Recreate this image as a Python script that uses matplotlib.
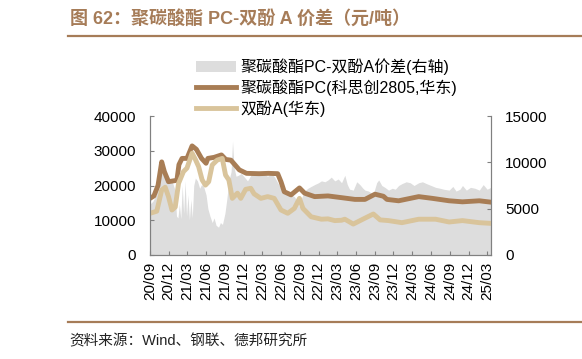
import pandas as pd
import matplotlib
matplotlib.use("Agg")
import matplotlib.pyplot as plt
import matplotlib.dates as mdates
from matplotlib.patches import Patch
from matplotlib.lines import Line2D

plt.rcParams["font.family"] = ["Liberation Sans", "Noto Sans CJK SC"]

# ---- data (yuan/ton) ----
pc_dates = ["2020-09-01", "2020-09-20", "2020-10-10", "2020-10-28", "2020-11-10", "2020-11-30",
            "2021-01-10", "2021-01-20", "2021-02-04", "2021-02-28", "2021-03-25", "2021-04-15",
            "2021-05-10", "2021-06-01", "2021-06-10", "2021-07-10", "2021-08-15", "2021-09-05",
            "2021-09-30", "2021-11-10", "2021-12-15", "2022-02-15", "2022-04-01", "2022-05-16",
            "2022-06-01", "2022-06-17", "2022-07-20", "2022-08-30", "2022-09-24", "2022-11-12",
            "2023-01-16", "2023-03-23", "2023-05-27", "2023-07-15", "2023-09-02", "2023-10-13",
            "2023-10-30", "2023-12-26", "2024-04-02", "2024-06-07", "2024-08-28", "2024-11-01",
            "2025-01-22", "2025-03-20"]
pc_vals = [16300, 17000, 20000, 26800, 24000, 21100,
           21500, 26000, 27800, 27800, 31400, 30400,
           27800, 26400, 27800, 28100, 28800, 27500,
           27300, 24500, 23500, 23400, 23500, 23400,
           21100, 18200, 17300, 19300, 17800, 16800,
           17000, 16500, 16000, 16000, 17500, 16900,
           16000, 15600, 16800, 16300, 15600, 15300,
           15600, 15200]

bpa_dates = ["2020-09-01", "2020-10-04", "2020-10-28", "2020-11-14", "2020-11-30", "2020-12-17",
             "2021-01-02", "2021-01-18", "2021-02-11", "2021-02-28", "2021-03-25", "2021-04-10",
             "2021-04-26", "2021-05-13", "2021-05-29", "2021-06-14", "2021-07-01", "2021-07-25",
             "2021-08-19", "2021-09-04", "2021-09-20", "2021-10-07", "2021-11-01", "2021-11-17",
             "2021-12-11", "2022-01-05", "2022-01-21", "2022-02-23", "2022-03-28", "2022-04-29",
             "2022-06-01", "2022-07-04", "2022-08-05", "2022-08-30", "2022-09-16", "2022-10-26",
             "2022-12-15", "2023-01-16", "2023-02-18", "2023-03-23", "2023-04-08", "2023-05-19",
             "2023-07-15", "2023-08-25", "2023-09-27", "2023-11-07", "2024-01-11", "2024-04-02",
             "2024-06-23", "2024-08-28", "2024-11-01", "2025-01-22", "2025-03-20"]
bpa_vals = [12000, 12600, 18700, 19500, 16800, 12950,
            13800, 20600, 24000, 25000, 29300, 27500,
            25400, 21600, 20100, 21100, 25900, 27300,
            27800, 23000, 21600, 16300, 17800, 16300,
            18900, 19200, 17600, 16300, 16800, 16300,
            12950, 12000, 13400, 16300, 13400, 11000,
            10300, 10400, 9900, 10000, 10300, 8900,
            10600, 11800, 10100, 9900, 9300, 10300,
            10300, 9500, 9900, 9300, 9100]

spread_dates = ["2020-09-01", "2020-09-15", "2020-10-01", "2020-10-20", "2020-11-05", "2020-11-20",
                "2020-12-05", "2020-12-20", "2021-01-01", "2021-01-08", "2021-01-15", "2021-01-22",
                "2021-01-29", "2021-02-05", "2021-02-12", "2021-02-19", "2021-02-26", "2021-03-05",
                "2021-03-12", "2021-03-19", "2021-03-26", "2021-04-02", "2021-04-10", "2021-04-20",
                "2021-05-01", "2021-05-10", "2021-05-20", "2021-06-01", "2021-06-10", "2021-06-20",
                "2021-07-01", "2021-07-10", "2021-07-20", "2021-08-01", "2021-08-10", "2021-08-20",
                "2021-09-01", "2021-09-10", "2021-09-20", "2021-10-01", "2021-10-08", "2021-10-15",
                "2021-10-25", "2021-11-05", "2021-11-20", "2021-12-05", "2021-12-20", "2022-01-05",
                "2022-01-20", "2022-02-05", "2022-02-20", "2022-03-10", "2022-03-28", "2022-04-15",
                "2022-05-01", "2022-05-16", "2022-06-01", "2022-06-17", "2022-07-04", "2022-07-20",
                "2022-08-05", "2022-08-20", "2022-08-30", "2022-09-10", "2022-09-24", "2022-10-10",
                "2022-10-26", "2022-11-12", "2022-12-01", "2022-12-15", "2023-01-01", "2023-01-16",
                "2023-02-01", "2023-02-18", "2023-03-07", "2023-03-23", "2023-04-08", "2023-04-20",
                "2023-05-01", "2023-05-19", "2023-06-05", "2023-06-20", "2023-07-05", "2023-07-15",
                "2023-08-01", "2023-08-15", "2023-08-25", "2023-09-10", "2023-09-20", "2023-10-05",
                "2023-10-20", "2023-11-07", "2023-11-25", "2023-12-10", "2023-12-26", "2024-01-11",
                "2024-02-01", "2024-02-20", "2024-03-10", "2024-04-02", "2024-04-20", "2024-05-10",
                "2024-06-01", "2024-06-23", "2024-07-15", "2024-08-01", "2024-08-28", "2024-09-15",
                "2024-10-01", "2024-10-20", "2024-11-01", "2024-11-20", "2024-12-10", "2025-01-01",
                "2025-01-22", "2025-02-10", "2025-03-01", "2025-03-20"]
spread_vals = [5500, 5800, 6500, 8500, 9200, 8800,
               8300, 7800, 7000, 4200, 4000, 5500,
               3900, 7500, 4500, 8000, 4200, 6500,
               3800, 6000, 4000, 7500, 8300, 8000,
               7200, 7600, 7400, 6500, 5000, 4200,
               3500, 4000, 3200, 3000, 3500, 3300,
               4500, 6000, 8000, 9000, 12300, 9500,
               8500, 8600, 8800, 8400, 8000, 8600,
               8900, 9000, 8800, 8700, 8500, 8800,
               8400, 7800, 7200, 6800, 6900, 6500,
               6300, 5800, 5200, 6200, 6900, 7200,
               7400, 7600, 7800, 8000, 7900, 8100,
               8400, 8000, 8200, 7800, 8600, 7600,
               7100, 7000, 7900, 7600, 7200, 7000,
               6900, 6700, 6600, 7800, 8100, 7500,
               7300, 7000, 7200, 7100, 7500, 7700,
               7900, 7800, 7500, 7800, 7900, 7700,
               7500, 7300, 7200, 7100, 7000, 7400,
               6900, 7100, 7500, 7000, 7300, 7200,
               7000, 7600, 7100, 7300]

tick_dates = pd.date_range("2020-09-01", "2025-03-01", freq="3MS")

brown = "#A87D55"
tan = "#D9C49B"
gray_fill = "#DDDDDD"
title_color = "#A67C58"
axis_color = "#808080"
fam = ["Liberation Sans", "Noto Sans CJK SC"]

fig = plt.figure(figsize=(5.82, 3.59), dpi=100)
ax = fig.add_axes([150 / 582, 1 - 255 / 359, 341 / 582, 139 / 359])
ax2 = ax.twinx()

ax2.fill_between(pd.to_datetime(spread_dates), spread_vals, 0, color=gray_fill, lw=0)
ax.plot(pd.to_datetime(pc_dates), pc_vals, color=brown, lw=3.5, solid_joinstyle="round")
ax.plot(pd.to_datetime(bpa_dates), bpa_vals, color=tan, lw=3.5, solid_joinstyle="round")

ax.set_zorder(ax2.get_zorder() + 1)
ax.patch.set_visible(False)

ax.set_xlim(pd.Timestamp("2020-09-01"), pd.Timestamp("2025-03-20"))
ax.set_ylim(0, 40000)
ax2.set_ylim(0, 15000)
ax.set_yticks([0, 10000, 20000, 30000, 40000])
ax2.set_yticks([0, 5000, 10000, 15000])
ax.set_xticks(tick_dates)
ax.xaxis.set_major_formatter(mdates.DateFormatter("%y/%m"))

for a in (ax, ax2):
    a.spines["top"].set_visible(False)
    for s in ("left", "right", "bottom"):
        a.spines[s].set_color(axis_color)
        a.spines[s].set_linewidth(0.8)
ax.tick_params(axis="y", direction="in", length=3, color=axis_color, labelsize=11, pad=10)
ax2.tick_params(axis="y", direction="in", length=3, color=axis_color, labelsize=11, pad=10)
ax.tick_params(axis="x", direction="in", length=3, color=axis_color, labelsize=11,
               labelrotation=90, pad=5)

handles = [Patch(facecolor=gray_fill, edgecolor="none"),
           Line2D([], [], color=brown, lw=3.5),
           Line2D([], [], color=tan, lw=3.5)]
labels = ["聚碳酸酯PC-双酚A价差(右轴)", "聚碳酸酯PC(科思创2805,华东)", "双酚A(华东)"]
fig.legend(handles, labels, loc="upper left", bbox_to_anchor=(196 / 582, 1 - 58 / 359),
           frameon=False, handlelength=2.5, handletextpad=0.3,
           labelspacing=0.28, borderpad=0, borderaxespad=0,
           prop={"family": fam, "size": 11.5})

fig.text(70 / 582, 1 - 19 / 359, "图 62：聚碳酸酯 PC-双酚 A 价差（元/吨）", color=title_color,
         fontsize=13, fontweight="bold", va="center", ha="left", family=fam)
fig.add_artist(Line2D([68 / 582, 1], [1 - 36 / 359] * 2, color=title_color, lw=1.6))
fig.add_artist(Line2D([68 / 582, 1], [1 - 322 / 359] * 2, color=title_color, lw=1.6))
fig.text(69 / 582, 1 - 341 / 359, "资料来源：Wind、钢联、德邦研究所", color="#222222",
         fontsize=10.5, va="center", ha="left", family=fam)

fig.savefig("out.png", dpi=100)
